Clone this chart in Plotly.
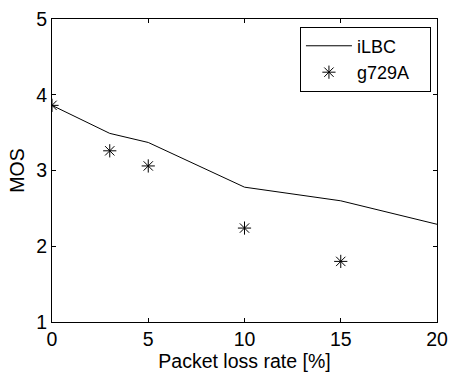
import plotly.graph_objects as go

x_ilbc = [0, 3, 5, 10, 15, 20]
mos_ilbc = [3.86, 3.49, 3.37, 2.78, 2.60, 2.29]
x_g729 = [0, 3, 5, 10, 15]
mos_g729 = [3.86, 3.26, 3.06, 2.24, 1.80]
x_ticks = [0, 5, 10, 15, 20]
y_ticks = [1, 2, 3, 4, 5]

fig = go.Figure()
fig.add_trace(go.Scatter(x=x_ilbc, y=mos_ilbc, mode="lines", name="iLBC",
                         line=dict(color="black", width=1)))
fig.add_trace(go.Scatter(x=x_g729, y=mos_g729, mode="markers", name="g729A\u00a0\u00a0\u00a0",
                         marker=dict(symbol="asterisk-open", size=11, color="black",
                                     line=dict(color="black", width=1))))

font = dict(family="Liberation Sans, Arial, sans-serif", size=19.5, color="black")
axis_common = dict(showline=True, linecolor="black", linewidth=1, mirror="ticks",
                   ticks="inside", ticklen=4, tickcolor="black", tickwidth=1,
                   showgrid=False, zeroline=False, tickfont=font, automargin=False)
fig.update_xaxes(range=[0, 20], tickvals=x_ticks,
                 title=dict(text="Packet loss rate [%]", font=font, standoff=2),
                 **axis_common)
fig.update_yaxes(range=[1, 5], tickvals=y_ticks,
                 title=dict(text="MOS", font=font, standoff=6),
                 **axis_common)
fig.update_layout(
    width=449, height=374,
    margin=dict(l=52, r=12, t=19, b=52),
    paper_bgcolor="white", plot_bgcolor="white",
    font=font,
    showlegend=True,
    legend=dict(x=0.644, y=0.975, xanchor="left", yanchor="top",
                bordercolor="black", borderwidth=1, bgcolor="white",
                font=dict(family=font["family"], size=18, color="black"),
                tracegroupgap=0, itemwidth=46),
)
fig.write_html("out.html", post_script="document.body.style.margin='0';",
               config={"displayModeBar": False})
